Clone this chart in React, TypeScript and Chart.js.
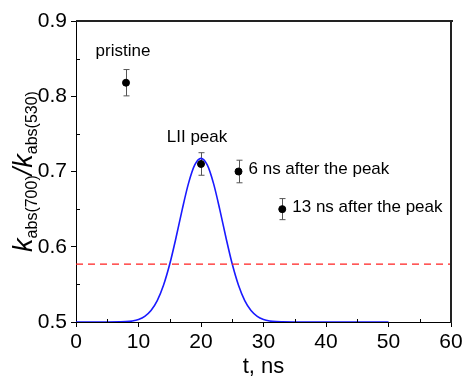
import React, { useEffect, useRef } from "react";
import { Chart, registerables } from "chart.js";

Chart.register(...registerables);

// Measured points (t, ns) and ratio values with error half-widths
const pointT = [8, 20, 26, 33];
const pointK = [0.818, 0.71, 0.7, 0.65];
const pointErr = [0.0175, 0.015, 0.015, 0.014];
const pointLabels = ["pristine", "LII peak", "6 ns after the peak", "13 ns after the peak"];

// Blue LII signal curve
const curveT = [0, 5, 7, 8, 9, 10, 11, 12, 13, 14, 15, 16, 17, 18, 19, 20, 21, 22, 23, 24, 25, 26, 27, 28, 29, 30, 31, 32, 33, 35, 40, 45, 50];
const curveK = [0.5, 0.5, 0.5002, 0.5005, 0.5014, 0.5034, 0.5075, 0.5152, 0.5284, 0.5488, 0.577, 0.6119, 0.6497, 0.6842, 0.7087, 0.7175, 0.7087, 0.6842, 0.6497, 0.6119, 0.577, 0.5488, 0.5284, 0.5152, 0.5075, 0.5034, 0.5014, 0.5005, 0.5002, 0.5, 0.5, 0.5, 0.5];

// Red dashed reference level
const refT = [0, 60];
const refK = [0.577, 0.577];

// Axis ranges / ticks
const xMin = 0, xMax = 60, xStep = 10, xMinorStep = 5;
const yMin = 0.5, yMax = 0.9, yStep = 0.1, yMinorStep = 0.05;

const FONT = "'Liberation Sans', Arial, sans-serif";

const overlayPlugin = {
  id: "overlay",
  beforeDatasetsDraw(chart: any) {
    const ctx = chart.ctx;
    const xs = chart.scales.x;
    const ys = chart.scales.y;
    ctx.save();
    ctx.setLineDash([]);
    ctx.strokeStyle = "#555";
    ctx.lineWidth = 1;
    for (let i = 0; i < pointT.length; i++) {
      const px = Math.round(xs.getPixelForValue(pointT[i])) + 0.5;
      const top = ys.getPixelForValue(pointK[i] + pointErr[i]);
      const bot = ys.getPixelForValue(pointK[i] - pointErr[i]);
      ctx.beginPath();
      ctx.moveTo(px, top);
      ctx.lineTo(px, bot);
      ctx.moveTo(px - 3, top);
      ctx.lineTo(px + 3, top);
      ctx.moveTo(px - 3, bot);
      ctx.lineTo(px + 3, bot);
      ctx.stroke();
    }
    ctx.restore();
  },
  afterDraw(chart: any) {
    const ctx = chart.ctx;
    const xs = chart.scales.x;
    const ys = chart.scales.y;
    const a = chart.chartArea;
    ctx.save();
    ctx.setLineDash([]);
    const L = Math.round(a.left);
    const R = Math.round(a.right);
    const T = Math.round(a.top);
    const B = Math.round(a.bottom);
    // frame, top and right sides
    ctx.fillStyle = "#222";
    ctx.fillRect(L, T - 1, R - L + 2, 2);
    ctx.fillRect(R - 1, T - 1, 2, B - T + 2);
    ctx.fillStyle = "#000";
    // minor ticks (inward)
    for (let v = xMin + xMinorStep; v < xMax; v += xStep) {
      const px = Math.round(xs.getPixelForValue(v));
      ctx.fillRect(px, B - 3, 1, 3);
    }
    for (let v = yMin + yMinorStep; v < yMax - 1e-9; v += yStep) {
      const py = Math.round(ys.getPixelForValue(v));
      ctx.fillRect(L, py, 4, 1);
    }

    // point labels
    ctx.font = `17px ${FONT}`;
    ctx.textBaseline = "middle";
    const offs = [
      { dx: -3, dy: -31, align: "center" },
      { dx: -4, dy: -27, align: "center" },
      { dx: 10, dy: -2, align: "left" },
      { dx: 10, dy: -2, align: "left" },
    ];
    for (let i = 0; i < pointLabels.length; i++) {
      const px = xs.getPixelForValue(pointT[i]);
      const py = ys.getPixelForValue(pointK[i]);
      ctx.textAlign = offs[i].align as CanvasTextAlign;
      ctx.fillText(pointLabels[i], px + offs[i].dx, py + offs[i].dy);
    }

    // x title
    ctx.font = `22px ${FONT}`;
    ctx.textAlign = "center";
    ctx.textBaseline = "middle";
    ctx.fillText("t, ns", (a.left + a.right) / 2, 367);

    // y title (rotated, with subscripts)
    const parts = [
      { t: "k", f: `italic 27px ${FONT}`, sub: false },
      { t: "abs(700)", f: `16px ${FONT}`, sub: true },
      { t: "/", f: `italic 27px ${FONT}`, sub: false },
      { t: "k", f: `italic 27px ${FONT}`, sub: false },
      { t: "abs(530)", f: `16px ${FONT}`, sub: true },
    ];
    let total = 0;
    for (const p of parts) {
      ctx.font = p.f;
      total += ctx.measureText(p.t).width;
    }
    ctx.translate(32, (a.top + a.bottom) / 2);
    ctx.rotate(-Math.PI / 2);
    ctx.textAlign = "left";
    ctx.textBaseline = "alphabetic";
    let cx = -total / 2;
    for (const p of parts) {
      ctx.font = p.f;
      ctx.fillText(p.t, cx, p.sub ? 5 : 0);
      cx += ctx.measureText(p.t).width;
    }
    ctx.restore();
  },
};

export default function App() {
  const ref = useRef<HTMLCanvasElement | null>(null);
  useEffect(() => {
    if (!ref.current) return;
    const chart = new Chart(ref.current, {
      type: "scatter",
      data: {
        datasets: [
          {
            type: "line",
            data: refT.map((t, i) => ({ x: t, y: refK[i] })),
            borderColor: "#ff2020",
            borderWidth: 1.3,
            borderDash: [7, 5],
            pointRadius: 0,
            fill: false,
          },
          {
            type: "line",
            data: curveT.map((t, i) => ({ x: t, y: curveK[i] })),
            borderColor: "#1a1aff",
            borderWidth: 1.6,
            pointRadius: 0,
            cubicInterpolationMode: "monotone",
            fill: false,
          },
          {
            type: "scatter",
            data: pointT.map((t, i) => ({ x: t, y: pointK[i] })),
            backgroundColor: "#000",
            borderColor: "#000",
            pointRadius: 3.5,
          },
        ],
      } as any,
      options: {
        animation: false,
        responsive: true,
        maintainAspectRatio: false,
        layout: { padding: { left: 0, right: 12, top: 21, bottom: 0 } },
        plugins: { legend: { display: false }, tooltip: { enabled: false } },
        scales: {
          x: {
            type: "linear",
            min: xMin,
            max: xMax,
            afterFit: (s: any) => {
              s.height = 54;
              s.paddingLeft = 0;
              s.paddingRight = 0;
            },
            ticks: {
              stepSize: xStep,
              color: "#000",
              font: { size: 21, family: FONT },
              padding: 3,
              maxRotation: 0,
            },
            grid: { drawOnChartArea: false, drawTicks: true, tickLength: 5, color: "#000" },
            border: { display: true, color: "#000" },
          },
          y: {
            type: "linear",
            min: yMin,
            max: yMax,
            afterFit: (s: any) => {
              s.width = 76;
              s.paddingTop = 0;
              s.paddingBottom = 0;
            },
            ticks: {
              stepSize: yStep,
              color: "#000",
              font: { size: 21, family: FONT },
              padding: 4,
              callback: (v: any) => Number(v).toFixed(1),
            },
            grid: { drawOnChartArea: false, drawTicks: true, tickLength: 5, color: "#000" },
            border: { display: true, color: "#000" },
          },
        },
      } as any,
      plugins: [overlayPlugin],
    });
    return () => chart.destroy();
  }, []);
  return (
    <div style={{ position: "fixed", left: 0, top: 0, width: 463, height: 376, background: "#fff" }}>
      <canvas ref={ref} />
    </div>
  );
}
